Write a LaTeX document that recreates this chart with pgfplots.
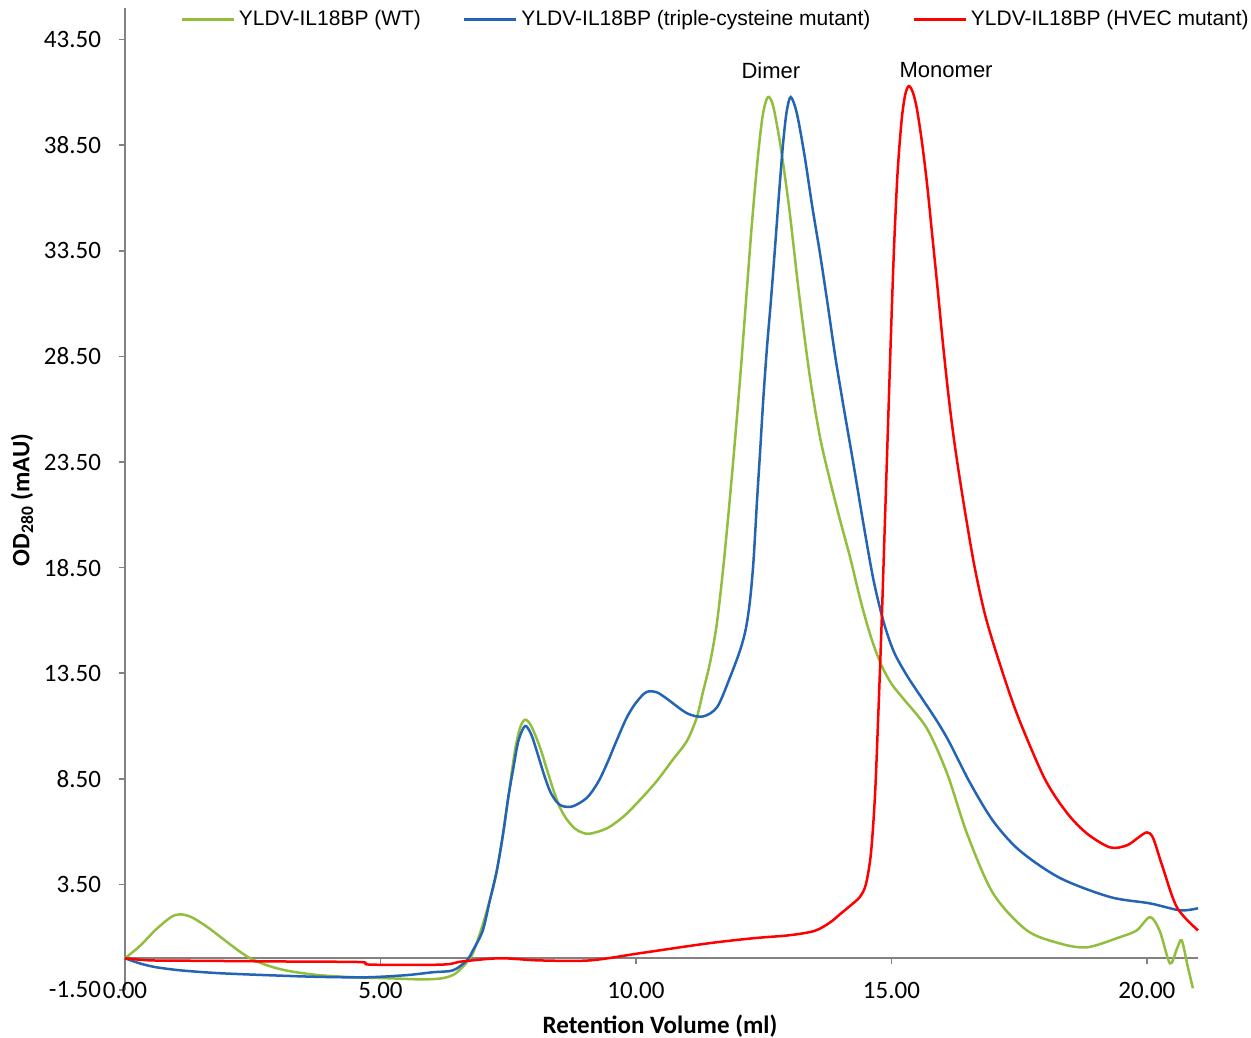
\documentclass[border=0pt]{standalone}
\usepackage{pgfplots}
\pgfplotsset{compat=1.18}
\usepackage{fontspec}
\setmainfont{Carlito}
\newfontfamily\arialfont{Liberation Sans}

\definecolor{wtgreen}{RGB}{146,190,62}
\definecolor{tcblue}{RGB}{35,100,180}
\definecolor{hvred}{RGB}{255,0,0}
\definecolor{axgray}{RGB}{130,130,130}

\begin{document}
\begin{tikzpicture}
\begin{axis}[
    scale only axis,
    width=536.5pt, height=491pt,
    xmin=0, xmax=21, ymin=-1.5, ymax=45,
    axis x line=middle, axis y line=left,
    axis line style={-, axgray, line width=1pt},
    hide obscured x ticks=false,
    xtick={0,5,10,15,20},
    ytick={-1.5,3.5,...,43.5},
    tick align=outside,
    major tick length=3pt,
    tick style={axgray, line width=0.8pt},
    ticklabel style={font=\fontsize{12.5}{14}\selectfont},
    xticklabel style={anchor=center, yshift=-13.3pt},
    yticklabel style={xshift=-5.5pt},
    /pgf/number format/.cd, fixed, fixed zerofill, precision=2, assume math mode=true,
    /pgfplots/.cd,
    xlabel={\textbf{Retention Volume (ml)}},
    ylabel={\textbf{OD\textsubscript{280} (mAU)}},
    label style={font=\fontsize{12.5}{14}\selectfont},
    xlabel style={at={(axis description cs:0.4986,-0.0367)}, anchor=center},
    ylabel style={at={(axis description cs:-0.096,0.499)}, anchor=center, rotate=0},
    legend columns=3,
    legend style={at={(axis description cs:0.0513,0.988)}, anchor=west,
        draw=none, fill=none, inner sep=0pt,
        font=\arialfont\fontsize{10.5}{12}\selectfont,
        /tikz/every even column/.append style={column sep=19pt}},
    legend image code/.code={\draw[#1, line width=1.25pt] (0pt,0pt) -- (26pt,0pt);},
    clip=false,
    every axis plot/.append style={line width=1.25pt, smooth},
]
% YLDV-IL18BP (WT)
\addplot[wtgreen] coordinates {
(0,0) (0.3,0.6) (0.6,1.35) (0.9,1.95) (1.08,2.08) (1.3,1.95) (1.6,1.5)
(1.9,0.95) (2.2,0.4) (2.45,0.0) (2.8,-0.35) (3.2,-0.6) (3.8,-0.8) (4.5,-0.9)
(5.2,-0.95) (5.8,-1.0) (6.2,-0.95) (6.45,-0.75) (6.65,-0.3) (6.8,0.2)
(6.95,1.2) (7.1,2.4) (7.25,3.8) (7.38,5.6) (7.5,7.6) (7.63,9.8) (7.73,10.9)
(7.83,11.3) (7.95,11.0) (8.12,10.0) (8.25,9.0) (8.38,8.0) (8.5,7.2) (8.64,6.6)
(8.8,6.15) (8.95,5.95) (9.1,5.9) (9.43,6.15) (9.75,6.7) (10.08,7.5) (10.41,8.4)
(10.72,9.4) (11.0,10.3) (11.19,11.4) (11.31,12.6) (11.45,14.0) (11.58,15.8)
(11.7,18.3) (11.82,21.3) (11.93,24.3) (12.04,27.5) (12.15,31.0) (12.27,34.8)
(12.38,37.8) (12.48,39.9) (12.58,40.78) (12.68,40.4) (12.8,38.9) (12.9,37.3)
(13.0,35.5) (13.1,33.4) (13.2,31.3) (13.4,27.6) (13.6,24.7) (13.8,22.6)
(14.0,20.7) (14.2,18.9) (14.4,16.9) (14.6,15.2) (14.8,13.9) (15.0,13.0)
(15.23,12.3) (15.69,10.9) (16.09,8.75) (16.48,5.9) (16.99,3.07) (17.65,1.32)
(18.3,0.7) (18.83,0.52) (19.47,1.0) (19.8,1.32) (20.06,1.95) (20.25,1.3)
(20.45,-0.24) (20.58,0.4) (20.68,0.85) (20.8,-0.4) (20.9,-1.42)
};
\addlegendentry{YLDV-IL18BP (WT)}
% YLDV-IL18BP (triple-cysteine mutant)
\addplot[tcblue] coordinates {
(0,0) (0.3,-0.25) (0.6,-0.42) (1.08,-0.57) (1.8,-0.7) (2.78,-0.8) (3.8,-0.88)
(4.73,-0.9) (5.5,-0.8) (6.03,-0.66) (6.42,-0.57) (6.69,-0.1) (6.81,0.38)
(7.0,1.3) (7.14,2.74) (7.28,4.2) (7.4,5.9) (7.5,7.6) (7.6,9.0) (7.7,10.3)
(7.83,11.0) (7.95,10.6) (8.06,9.8) (8.2,8.7) (8.32,7.9) (8.45,7.4) (8.57,7.2)
(8.77,7.2) (9.04,7.6) (9.25,8.3) (9.43,9.2) (9.62,10.3) (9.82,11.4) (10.0,12.1)
(10.2,12.6) (10.4,12.6) (10.6,12.3) (11.0,11.6) (11.31,11.45) (11.59,11.9)
(11.84,13.3) (12.04,14.6) (12.15,15.6) (12.23,16.9) (12.3,18.8) (12.37,21.7)
(12.43,24.0) (12.49,26.4) (12.56,28.8) (12.64,31.1) (12.72,33.6) (12.8,36.2)
(12.88,38.6) (12.95,40.1) (13.03,40.78) (13.15,40.0) (13.3,38.0) (13.45,35.6)
(13.6,33.4) (13.75,31.0) (13.9,28.5) (14.05,26.3) (14.25,23.5) (14.45,20.6)
(14.65,17.9) (14.85,15.9) (15.05,14.5) (15.3,13.4) (15.6,12.3) (15.9,11.2)
(16.14,10.2) (16.54,8.3) (16.99,6.5) (17.51,5.1) (18.3,3.8) (19.28,2.9)
(20.06,2.6) (20.65,2.27) (21.0,2.37)
};
\addlegendentry{YLDV-IL18BP (triple-cysteine mutant)}
% YLDV-IL18BP (HVEC mutant)
\addplot[hvred] coordinates {
(0,0) (0.5,-0.1) (1.5,-0.12) (3.0,-0.15) (4.6,-0.18) (4.8,-0.3) (6.2,-0.3)
(6.6,-0.15) (7.34,0.0) (8.1,-0.1) (9.1,-0.1) (10.08,0.24) (11.39,0.7)
(12.3,0.95) (13.0,1.09) (13.5,1.3) (13.8,1.7) (14.0,2.1) (14.2,2.5) (14.38,2.9)
(14.5,3.5) (14.6,5.0) (14.68,7.8) (14.75,12.0) (14.81,16.0) (14.87,20.5)
(14.93,25.0) (14.99,29.5) (15.05,33.6) (15.12,37.2) (15.2,39.7) (15.27,40.9)
(15.34,41.3) (15.42,41.0) (15.5,40.2) (15.6,38.6) (15.7,36.6) (15.8,34.2)
(15.9,31.8) (16.0,29.3) (16.1,27.0) (16.2,25.0) (16.3,23.3) (16.45,21.0)
(16.63,18.5) (16.85,16.1) (17.18,13.5) (17.5,11.3) (18.0,8.5) (18.43,6.9)
(18.83,5.9) (19.28,5.25) (19.61,5.35) (19.85,5.75) (20.0,5.96) (20.12,5.7)
(20.31,4.3) (20.59,2.4) (21.0,1.32)
};
\addlegendentry{YLDV-IL18BP (HVEC mutant)}
\node[font=\arialfont\fontsize{11}{13}\selectfont] at (axis cs:12.64,42.05) {Dimer};
\node[font=\arialfont\fontsize{11}{13}\selectfont] at (axis cs:16.07,42.05) {Monomer};
\coordinate (bbSW) at (rel axis cs:-0.1165,-0.0489);
\coordinate (bbNE) at (rel axis cs:1.0494,1.0081);
\end{axis}
\pgfresetboundingbox
\path (bbSW) rectangle (bbNE);
\end{tikzpicture}
\end{document}
